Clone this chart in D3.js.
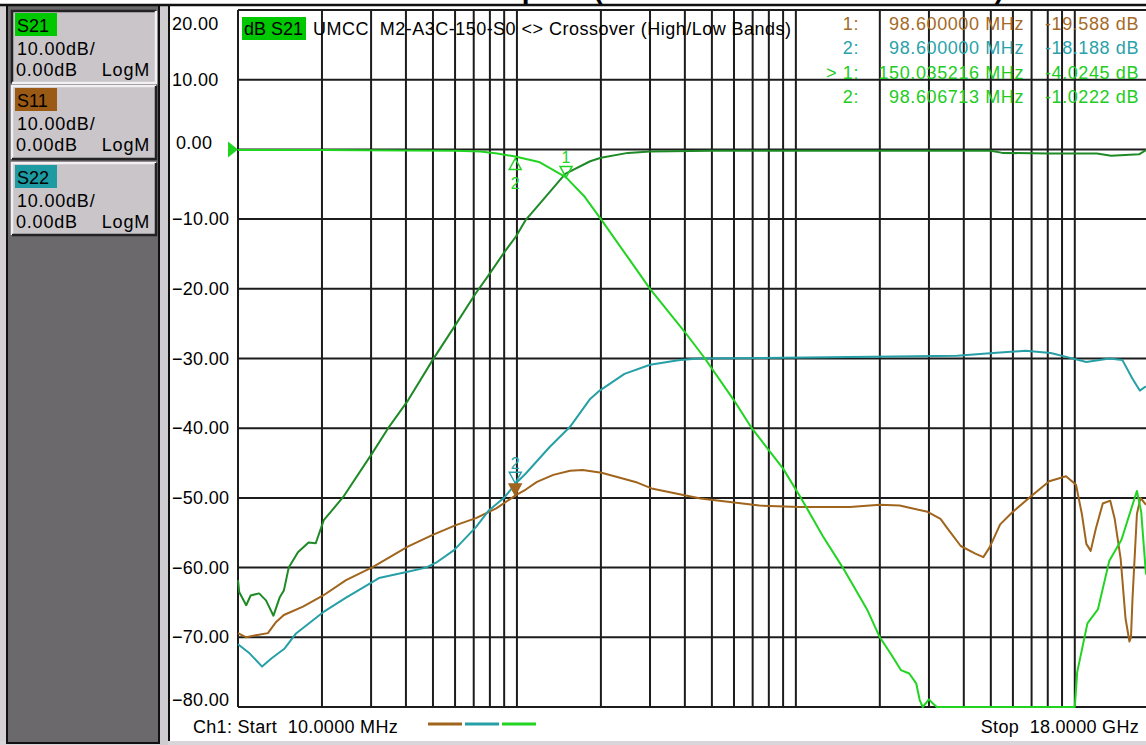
<!DOCTYPE html>
<html>
<head>
<meta charset="utf-8">
<script src="https://cdn.jsdelivr.net/npm/d3@7"></script>
<style>
  body { margin: 0; background: #d4d0d4; }
  svg { display: block; }
  text { font-family: "Liberation Sans", Arial, sans-serif; }
</style>
</head>
<body>
<svg id="chart" width="1146" height="745"></svg>
<script>
// ---- data (frequencies in MHz, levels in dB) ----
const lowpassFreq = [10, 20, 40, 60, 74, 85, 98.6, 120, 150, 175, 200, 250, 300, 400, 472, 600, 695, 900, 1043, 1250, 1473, 1575, 1800, 2000, 2200, 2380, 2550, 2700, 2780, 2850, 3000, 3100, 3200, 10000, 10200, 11100, 12100, 13300, 14700, 16700, 17300, 18000];
const lowpassDb = [-0.1, -0.1, -0.15, -0.2, -0.3, -0.6, -1.02, -1.8, -4.02, -6.8, -10, -15.5, -20, -26.2, -30, -36, -40, -45.8, -50, -55.5, -60, -62, -66, -70, -72.5, -74.7, -75.2, -76.6, -79, -80, -78.9, -79.5, -80, -80, -75, -68, -66, -59, -56, -49, -52, -61];

const highpassFreq = [10, 10.1, 10.7, 11.1, 11.9, 12.6, 13.4, 14.1, 14.6, 15.2, 16.4, 17.9, 19.0, 20.3, 23.8, 30.5, 34.8, 40.7, 49.9, 59.5, 71.3, 79.3, 90.3, 99.2, 107.6, 128, 149, 183, 200, 250, 300, 500, 1000, 5000, 5500, 8000, 12000, 13500, 17000, 18000];
const highpassDb = [-61.8, -63.5, -65.4, -64, -63.7, -64.7, -66.9, -64.3, -63.3, -60, -57.8, -56.4, -56.5, -53.2, -49.9, -43.4, -39.8, -36, -30.2, -25.5, -20.6, -18, -14.7, -12.5, -10.1, -6.6, -3.5, -1.7, -1.2, -0.5, -0.3, -0.2, -0.2, -0.2, -0.5, -0.6, -0.6, -0.9, -0.7, -0.1];

const s11Freq = [10, 10.7, 11.6, 12.8, 13.7, 14.6, 17.1, 20.2, 24.4, 30.5, 40.6, 49.9, 60.4, 71.3, 84.3, 99.2, 107.6, 118, 135, 155, 172, 201, 234, 270, 307, 455, 740, 1030, 1563, 2000, 2355, 2966, 3300, 3500, 3900, 4400, 4700, 4950, 5400, 5960, 6900, 8100, 9300, 10100, 10600, 11000, 11400, 11900, 12600, 13400, 13900, 14600, 15200, 15700, 15900, 16100, 16700, 17200, 18000];
const s11Db = [-69.4, -70, -69.7, -69.4, -67.8, -66.8, -65.6, -64, -61.8, -59.9, -57, -55.3, -53.9, -52.9, -51.5, -49.6, -48.8, -47.7, -46.7, -46.1, -46, -46.4, -47.1, -47.8, -48.7, -50.1, -51.1, -51.3, -51.3, -51.0, -51.1, -52, -53, -54.4, -56.9, -58, -58.5, -57.1, -53.8, -52.1, -49.9, -47.6, -46.9, -48.1, -52.3, -56.6, -57.6, -54.4, -50.8, -50.4, -53, -58.7, -67.3, -70.6, -70, -64.5, -52.3, -50, -51];

const s22Freq = [10, 11.0, 12.2, 13.2, 14.7, 16.1, 20.2, 24.4, 30.5, 32, 40.6, 47.2, 51.3, 59.5, 71.3, 79.3, 90.3, 99.2, 107.6, 131, 155, 183, 198, 243, 300, 384, 451, 1563, 3790, 5100, 6660, 8200, 9400, 11000, 13300, 14800, 16100, 17100, 18000];
const s22Db = [-71, -72.3, -74.2, -73, -71.6, -69.5, -66.4, -64.3, -62, -61.5, -60.6, -60, -59.3, -57.5, -54.2, -51.8, -49.9, -47.9, -46.5, -42.7, -39.8, -35.8, -34.6, -32.2, -30.9, -30.2, -30, -29.8, -29.6, -29.2, -28.9, -29.2, -29.8, -30.5, -30, -30.2, -32.9, -34.6, -34];

const yTicks = [20, 10, 0, -10, -20, -30, -40, -50, -60, -70, -80];
const channels = [
  { name: "S21", scale: "10.00dB/", ref: "0.00dB", fmt: "LogM" },
  { name: "S11", scale: "10.00dB/", ref: "0.00dB", fmt: "LogM" },
  { name: "S22", scale: "10.00dB/", ref: "0.00dB", fmt: "LogM" }
];
const markerRows = [
  { id: "1:", freq: "98.600000 MHz", val: "-19.588 dB", trace: "s11" },
  { id: "2:", freq: "98.600000 MHz", val: "-18.188 dB", trace: "s22" },
  { id: "> 1:", freq: "150.035216 MHz", val: "-4.0245 dB", trace: "s21" },
  { id: "2:", freq: "98.606713 MHz", val: "-1.0222 dB", trace: "s21" }
];

// ---- styling ----
const colors = {
  s21: "#22d422", hp: "#1e8a26", s11: "#a0641c", s22: "#26a0a6",
  s11Text: "#a66a28", s22Text: "#2aa2aa", s21Text: "#22cc22",
  grid: "#1c1c1c", panel: "#6c696c", box: "#c9c5c9"
};

const svg = d3.select("#chart");
const W = 1146, H = 745;

// scales
const x = d3.scaleLog().domain([10, 18000]).range([238, 1146]);
const y = d3.scaleLinear().domain([-80, 20]).range([707, 10]);

// ---- frame ----
svg.append("rect").attr("x", 0).attr("y", 0).attr("width", W).attr("height", 5).attr("fill", "#fff");
svg.append("rect").attr("x", 0).attr("y", 741).attr("width", W).attr("height", 4).attr("fill", "#d8d6d8");

// title, cut off at the very top as in the screenshot
svg.append("text")
  .attr("x", 1004).attr("y", -2)
  .attr("text-anchor", "end")
  .attr("font-size", 28).attr("font-weight", "bold")
  .text("UMCC Crossover Lowpass (Low Band 10 MHz to 150 MHz)");

// left panel
svg.append("rect").attr("x", 7).attr("y", 5).attr("width", 152).attr("height", 738)
  .attr("fill", colors.panel).attr("stroke", "#111").attr("stroke-width", 2);
svg.append("rect").attr("x", 160).attr("y", 5).attr("width", 8).attr("height", 740).attr("fill", "#cfcccf");

// plot background
svg.append("rect").attr("x", 168).attr("y", 5).attr("width", W - 168).attr("height", 736)
  .attr("fill", "#fff");
svg.append("line").attr("x1", 169).attr("x2", 169).attr("y1", 5).attr("y2", 741)
  .attr("stroke", "#111").attr("stroke-width", 2);
svg.append("line").attr("x1", 0).attr("x2", W).attr("y1", 5).attr("y2", 5)
  .attr("stroke", "#111").attr("stroke-width", 2.5);

// channel boxes
const boxTop = [11, 86, 163];
const labelBg = ["#00c800", "#9a5a16", "#1d9aa2"];
channels.forEach((c, i) => {
  const g = svg.append("g").attr("transform", `translate(12,${boxTop[i]})`);
  const h = i === 1 ? 73 : 72;
  g.append("rect").attr("width", 144).attr("height", h).attr("fill", colors.box);
  const light = "#f2f0f2", dark = "#222";
  const tl = i === 0 ? dark : light, br = i === 0 ? light : dark;
  g.append("path").attr("d", `M0,${h} V0 H144`).attr("fill", "none").attr("stroke", tl).attr("stroke-width", 2.5);
  g.append("path").attr("d", `M0,${h} H144 V0`).attr("fill", "none").attr("stroke", br).attr("stroke-width", 2.5);
  g.append("rect").attr("x", 3).attr("y", 2).attr("width", 42).attr("height", 23).attr("fill", labelBg[i]);
  g.append("text").attr("x", 5).attr("y", 21).attr("font-size", 18).text(c.name);
  g.append("text").attr("x", 5).attr("y", 44).attr("font-size", 18).attr("letter-spacing", 0.8).text(c.scale);
  g.append("text").attr("x", 4).attr("y", 65).attr("font-size", 18).attr("letter-spacing", 0.8).text(c.ref);
  g.append("text").attr("x", 138).attr("y", 65).attr("text-anchor", "end").attr("font-size", 18).attr("letter-spacing", 0.8).text(c.fmt);
});

// ---- grid ----
const xGrid = [];
[10, 100, 1000, 10000].forEach(d => {
  for (let k = 1; k <= 9; k++) {
    const f = d * k;
    if (f <= 18000) xGrid.push(f);
  }
});
svg.append("g").selectAll("line").data(xGrid).join("line")
  .attr("x1", d => x(d)).attr("x2", d => x(d))
  .attr("y1", y(20)).attr("y2", y(-80))
  .attr("stroke", colors.grid).attr("stroke-width", 2);
svg.append("g").selectAll("line").data(yTicks).join("line")
  .attr("x1", x(10)).attr("x2", W)
  .attr("y1", d => y(d)).attr("y2", d => y(d))
  .attr("stroke", colors.grid).attr("stroke-width", 2);

// y labels
svg.append("g").selectAll("text").data(yTicks).join("text")
  .attr("x", d => d === 0 ? 176 : 172)
  .attr("y", d => {
    let p = y(d) + (d === 0 ? -6 : 0);
    return Math.max(24, Math.min(700, p));
  })
  .attr("dominant-baseline", "central")
  .attr("font-size", 18).attr("letter-spacing", 0.3)
  .text(d => d3.format(".2f")(d));

// reference arrow
svg.append("path")
  .attr("d", `M${x(10) - 10},${y(0) - 8} L${x(10)},${y(0)} L${x(10) - 10},${y(0) + 8} Z`)
  .attr("fill", colors.s21);

// ---- traces ----
const line = d3.line().x(d => x(d[0])).y(d => y(d[1]));
const traces = [
  { f: s11Freq, v: s11Db, c: colors.s11 },
  { f: s22Freq, v: s22Db, c: colors.s22 },
  { f: highpassFreq, v: highpassDb, c: colors.hp },
  { f: lowpassFreq, v: lowpassDb, c: colors.s21 }
];
traces.forEach(t => {
  svg.append("path")
    .datum(d3.zip(t.f, t.v))
    .attr("d", line)
    .attr("fill", "none").attr("stroke", t.c).attr("stroke-width", 2)
    .attr("stroke-linejoin", "round");
});

// ---- markers on traces ----
function markerDown(f, v, col, label, filled) {
  const px = x(f), py = y(v);
  svg.append("path")
    .attr("d", `M${px},${py} L${px - 6},${py - 11} L${px + 6},${py - 11} Z`)
    .attr("fill", filled ? col : "none").attr("stroke", col).attr("stroke-width", 1.5);
  svg.append("text").attr("x", px).attr("y", py - 14).attr("text-anchor", "middle")
    .attr("font-size", 16).attr("fill", col).text(label);
}
function markerUp(f, v, col, label) {
  const px = x(f), py = y(v) + 2;
  svg.append("path")
    .attr("d", `M${px},${py} L${px - 6},${py + 11} L${px + 6},${py + 11} Z`)
    .attr("fill", "none").attr("stroke", col).attr("stroke-width", 1.5);
  svg.append("text").attr("x", px).attr("y", py + 30).attr("text-anchor", "middle")
    .attr("font-size", 16).attr("fill", col).text(label);
}
markerDown(150, -4.02, colors.s21, "1", false);
markerUp(98.6, -1.02, colors.s21, "2");
markerDown(98.6, -47.9, colors.s22, "2", false);
markerDown(98.6, -49.6, colors.s11, "", true);

// ---- header ----
svg.append("rect").attr("x", 242).attr("y", 17).attr("width", 64).attr("height", 23).attr("fill", "#00c800");
svg.append("text").attr("x", 244).attr("y", 35).attr("font-size", 18).text("dB S21");
svg.append("text").attr("x", 313).attr("y", 35).attr("font-size", 18)
  .attr("textLength", 478).attr("lengthAdjust", "spacing")
  .text("UMCC\u00a0 M2-A3C-150-S0 <> Crossover (High/Low Bands)");

// marker readout
const rowCol = { s11: colors.s11Text, s22: colors.s22Text, s21: colors.s21Text };
const mg = svg.append("g").attr("font-size", 18).attr("letter-spacing", 0.6);
markerRows.forEach((r, i) => {
  const yy = 30 + i * 24.3;
  mg.append("text").attr("x", 859).attr("y", yy).attr("text-anchor", "end").attr("fill", rowCol[r.trace]).text(r.id);
  mg.append("text").attr("x", 1024).attr("y", yy).attr("text-anchor", "end").attr("fill", rowCol[r.trace]).text(r.freq);
  mg.append("text").attr("x", 1139).attr("y", yy).attr("text-anchor", "end").attr("fill", rowCol[r.trace]).text(r.val);
});

// ---- footer ----
svg.append("text").attr("x", 193).attr("y", 733).attr("font-size", 18).attr("letter-spacing", 0.3)
  .text("Ch1: Start\u00a0 10.0000 MHz");
svg.append("text").attr("x", 1139).attr("y", 733).attr("text-anchor", "end").attr("font-size", 18).attr("letter-spacing", 0.3)
  .text("Stop\u00a0 18.0000 GHz");
[colors.s11, colors.s22, colors.s21].forEach((c, i) => {
  svg.append("line").attr("x1", 428 + i * 37).attr("x2", 462 + i * 37)
    .attr("y1", 724).attr("y2", 724).attr("stroke", c).attr("stroke-width", 3);
});
</script>
</body>
</html>
